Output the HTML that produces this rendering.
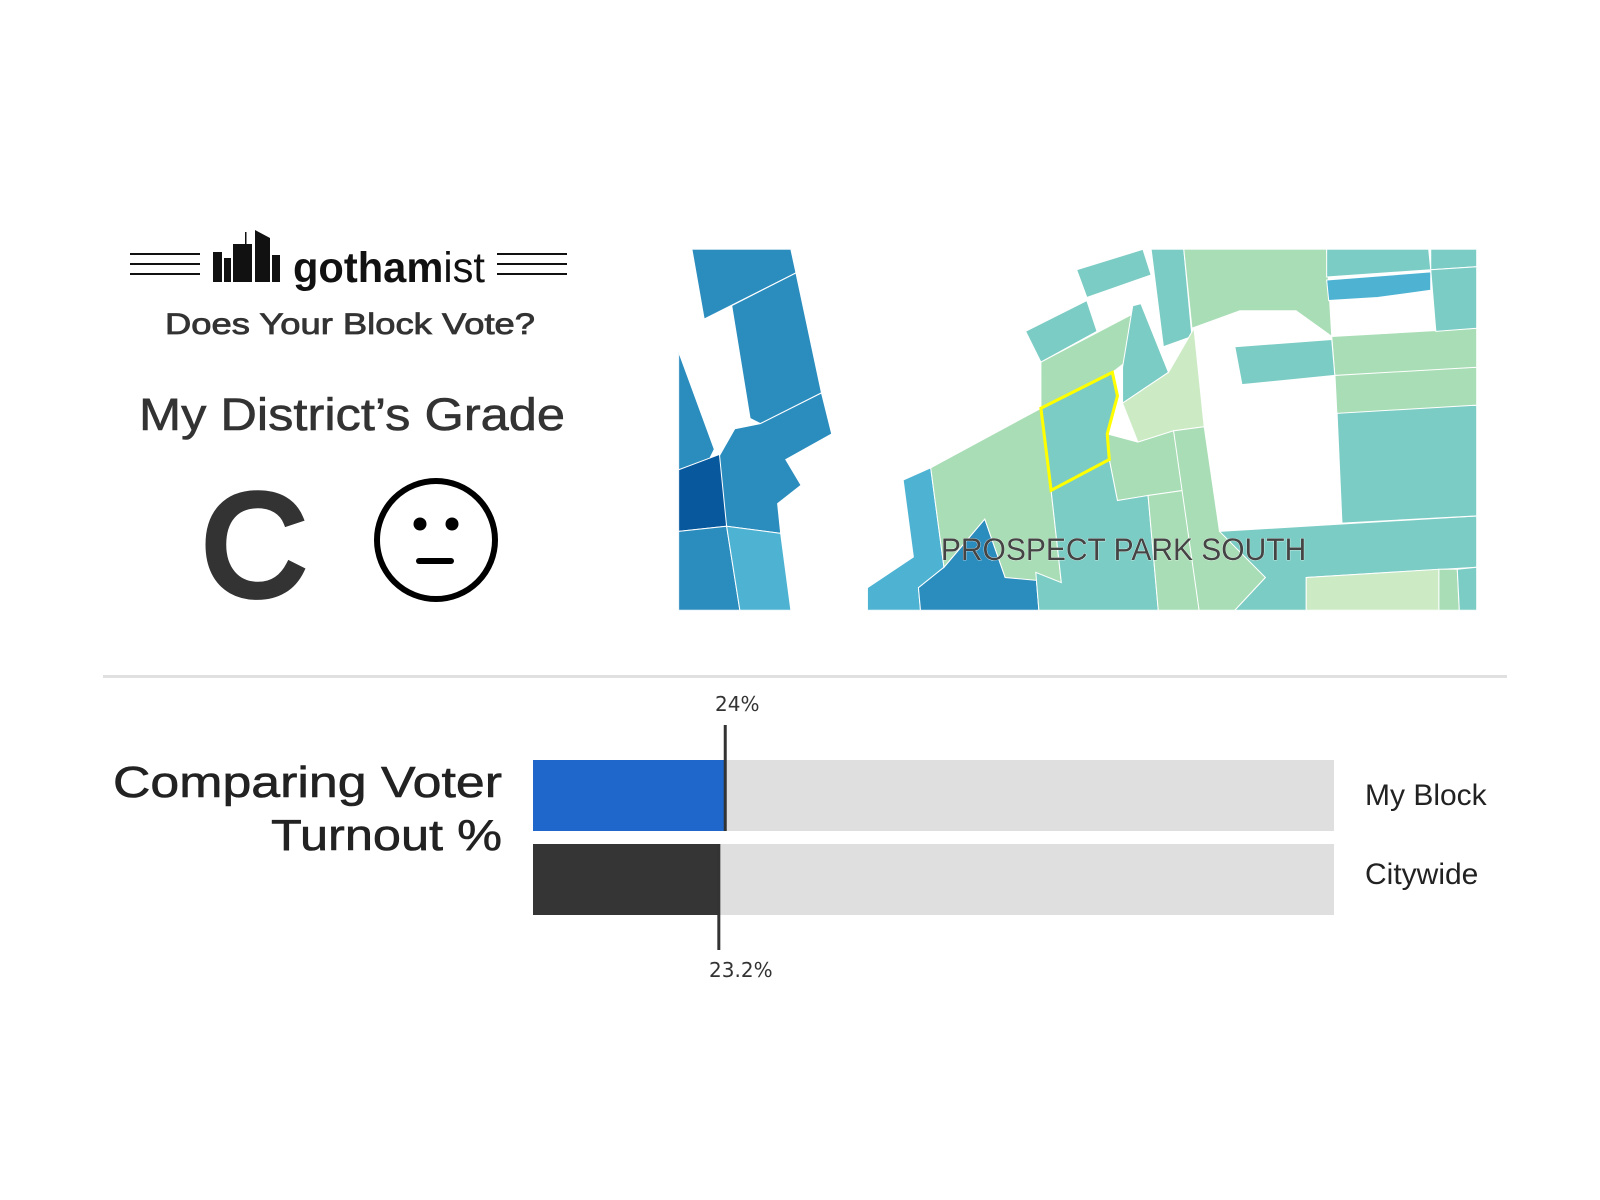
<!DOCTYPE html>
<html><head><meta charset="utf-8"><style>
html,body{margin:0;padding:0;background:#fff;}
svg{display:block;}
</style></head><body>
<svg width="1600" height="1200" viewBox="0 0 1600 1200" xmlns="http://www.w3.org/2000/svg">
<rect width="1600" height="1200" fill="#fff"/>
<g fill="#111">
  <rect x="130" y="253" width="70" height="2"/><rect x="130" y="263" width="70" height="2"/><rect x="130" y="273" width="70" height="2"/>
  <rect x="497" y="253" width="70" height="2"/><rect x="497" y="263" width="70" height="2"/><rect x="497" y="273" width="70" height="2"/>
  <rect x="213" y="252" width="9" height="30"/><rect x="224" y="258" width="7" height="24"/><rect x="233" y="244" width="8" height="38"/>
  <rect x="241" y="244" width="11" height="38"/><rect x="245" y="232" width="1.5" height="12"/>
  <polygon points="255,230 270,238 270,282 255,282"/><rect x="272" y="255" width="8" height="27"/>
  <text x="293" y="282" textLength="192" lengthAdjust="spacingAndGlyphs" font-family="Liberation Sans, sans-serif" font-size="43" font-weight="bold" fill="#111">gotham<tspan font-weight="normal">ist</tspan></text>
</g>
<text x="165" y="334" textLength="370" lengthAdjust="spacingAndGlyphs" font-family="Liberation Sans, sans-serif" font-size="30" fill="#333" stroke="#333" stroke-width="0.8">Does Your Block Vote?</text>
<text x="139" y="430" textLength="426" lengthAdjust="spacingAndGlyphs" font-family="Liberation Sans, sans-serif" font-size="45" fill="#333" stroke="#333" stroke-width="0.6">My District’s Grade</text>
<text x="254" y="595" text-anchor="middle" font-family="Liberation Sans, sans-serif" font-size="145" fill="#333" stroke="#333" stroke-width="7">C</text>
<g>
  <circle cx="436" cy="540" r="59" fill="none" stroke="#000" stroke-width="6"/>
  <circle cx="420" cy="524" r="6.5" fill="#000"/><circle cx="452" cy="524" r="6.5" fill="#000"/>
  <rect x="416" y="558" width="38" height="6" rx="3" fill="#000"/>
</g>
<g transform="translate(0,-2) scale(1.0205,1.02564)">
  <clipPath id="mc"><rect x="665" y="245" width="782" height="352"/></clipPath>
  <g clip-path="url(#mc)" stroke="#fff" stroke-width="1">
    <polygon fill="#2b8cbe" points="678,245 775,245 780,268 690,313"/>
    <polygon fill="#2b8cbe" points="717,300 780,268 805,385 745,415 735,410"/>
    <polygon fill="#2b8cbe" points="665,345 700,440 690,460 665,465"/>
    <polygon fill="#2b8cbe" points="745,415 805,385 815,425 770,450 785,475 762,493 765,522 712,515 700,455 720,420"/>
    <polygon fill="#08589e" points="665,460 705,445 712,515 665,520"/>
    <polygon fill="#2b8cbe" points="665,520 712,515 725,597 665,597"/>
    <polygon fill="#4eb3d3" points="712,515 765,522 775,597 725,597"/>
    <polygon fill="#4eb3d3" points="885,470 912,458 925,555 900,575 902,597 850,597 850,575 895,545"/>
    <polygon fill="#2b8cbe" points="925,555 965,508 985,565 1015,560 1018,597 902,597 900,575"/>
    <polygon fill="#a8ddb5" points="912,458 1020,400 1030,480 1040,570 985,565 965,508 925,555"/>
    <polygon fill="#a8ddb5" points="1020,355 1110,308 1103,355 1090,365 1020,400"/>
    <polygon fill="#7bccc4" points="1005,325 1065,295 1075,325 1020,355"/>
    <polygon fill="#7bccc4" points="1055,265 1120,245 1128,270 1065,292"/>
    <polygon fill="#7bccc4" points="1100,360 1110,300 1118,298 1145,365 1100,395"/>
    <polygon fill="#7bccc4" points="1128,245 1160,245 1168,330 1140,340"/>
    <polygon fill="#a8ddb5" points="1160,245 1300,245 1305,330 1270,305 1215,305 1168,322"/>
    <polygon fill="#ccebc5" points="1100,395 1145,365 1170,322 1180,418 1150,422 1115,433"/>
    <polygon fill="#a8ddb5" points="1085,425 1115,433 1150,422 1160,480 1095,490 1087,450"/>
    <polygon fill="#7bccc4" points="1030,480 1087,450 1095,490 1125,485 1135,597 1018,597 1015,560 1040,570"/>
    <polygon fill="#a8ddb5" points="1125,485 1160,480 1175,597 1135,597"/>
    <polygon fill="#a8ddb5" points="1150,422 1180,418 1195,520 1240,550 1240,565 1210,597 1175,597"/>
    <polygon fill="#7bccc4" points="1195,520 1447,505 1447,555 1280,565 1280,597 1210,597 1240,565"/>
    <polygon fill="#ccebc5" points="1280,565 1410,557 1410,597 1280,597"/>
    <polygon fill="#a8ddb5" points="1410,557 1428,557 1430,597 1410,597"/>
    <polygon fill="#7bccc4" points="1428,557 1447,555 1447,597 1430,597"/>
    <polygon fill="#7bccc4" points="1310,400 1447,397 1447,505 1315,512"/>
    <polygon fill="#a8ddb5" points="1308,365 1447,360 1447,397 1310,405"/>
    <polygon fill="#a8ddb5" points="1305,330 1447,322 1447,360 1308,368"/>
    <polygon fill="#7bccc4" points="1210,340 1305,333 1308,368 1217,377"/>
    <polygon fill="#7bccc4" points="1300,245 1400,245 1402,265 1300,272"/>
    <polygon fill="#4eb3d3" points="1300,275 1402,267 1402,285 1380,288 1350,292 1302,295"/>
    <polygon fill="#7bccc4" points="1402,245 1447,245 1447,262 1402,265"/>
    <polygon fill="#7bccc4" points="1402,265 1447,262 1447,322 1407,325"/>
    <polygon fill="#7bccc4" stroke="#ffff00" stroke-width="3" points="1020,400 1090,365 1095,388 1085,425 1087,450 1030,480"/>
  </g>
  <text x="922" y="548" textLength="358" lengthAdjust="spacingAndGlyphs" font-family="Liberation Sans, sans-serif" font-size="31" fill="#444" stroke="#fff" stroke-width="0.6" paint-order="stroke">PROSPECT PARK SOUTH</text>
</g>
<rect x="103" y="675" width="1404" height="3" fill="#e0e0e0"/>
<text text-anchor="end" font-family="Liberation Sans, sans-serif" font-size="44" fill="#222" stroke="#222" stroke-width="0.6"><tspan x="502" y="797" textLength="389" lengthAdjust="spacingAndGlyphs">Comparing Voter</tspan><tspan x="502" y="850" textLength="231" lengthAdjust="spacingAndGlyphs">Turnout %</tspan></text>
<g id="chart"></g>
</svg>
<script>
const categories = ["My Block", "Citywide"];
const turnoutValues = [24, 23.2];
const valueLabels = ["24%", "23.2%"];
const maxValue = 100;

const NS = "http://www.w3.org/2000/svg";
const chart = document.getElementById("chart");
const x0 = 533, x1 = 1334;
const xScale = v => x0 + (v / maxValue) * (x1 - x0);
const barTops = [760, 844], barH = 71;
const fills = ["#1f67cb", "#353535"];
const labelY = [805, 884];
const valueLabelDx = [12, 22];
function mk(tag, attrs) { const e = document.createElementNS(NS, tag); for (const k in attrs) e.setAttribute(k, attrs[k]); chart.appendChild(e); return e; }
categories.forEach((c, i) => {
  const y = barTops[i];
  const bg = mk("rect", {x: x0, y: y, width: x1 - x0, height: barH, fill: "#dfdfdf"});
  
  
  const bar = mk("rect", {x: x0, y: y, width: xScale(turnoutValues[i]) - x0, height: barH, fill: fills[i]});
  
  
  const lab = mk("text", {x: 1365, y: labelY[i], "font-family": "Liberation Sans, sans-serif", "font-size": "30", fill: "#222"});
  lab.textContent = c;
  
  
  const mx = xScale(turnoutValues[i]);
  const ly1 = i === 0 ? 725 : y, ly2 = i === 0 ? y + barH : 950;
  const ln = mk("line", {x1: mx, x2: mx, y1: ly1, y2: ly2, stroke: "#333", "stroke-width": "3"});
  
  
  const vt = mk("text", {x: mx + valueLabelDx[i], y: i === 0 ? 711 : 977, "text-anchor": "middle", "font-family": "DejaVu Sans, sans-serif", "font-size": "20", fill: "#333"});
  vt.textContent = valueLabels[i];
  
  
});
</script>
</body></html>
